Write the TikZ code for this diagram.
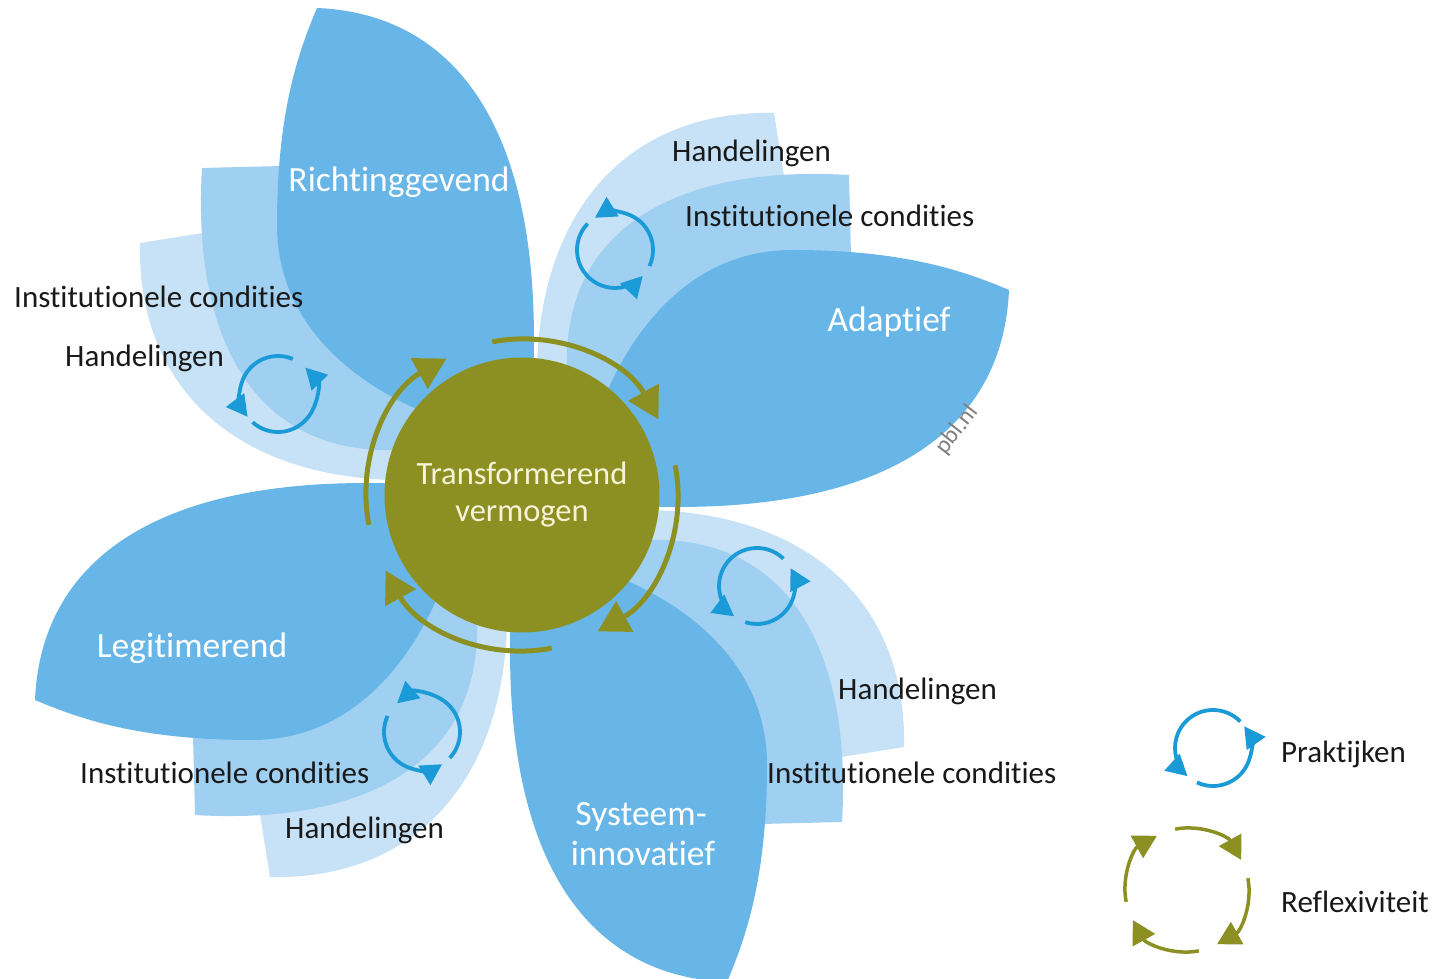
\documentclass[tikz,border=0pt]{standalone}
\usepackage{fontspec}
\setmainfont{Carlito}[Ligatures={NoCommon,NoRare,NoDiscretionary}]
\usepackage{xcolor}
\usepackage{tikz}
\usetikzlibrary{arrows.meta}

\definecolor{petalblue}{HTML}{68B6E8}
\definecolor{condblue}{HTML}{9FCFF1}
\definecolor{handblue}{HTML}{C7E2F6}
\definecolor{olive}{HTML}{8C9023}
\definecolor{cycblue}{HTML}{1A9AD7}
\definecolor{cream}{HTML}{F6F3D8}

% one leaf and its two layers, drawn for the top leaf
\newcommand{\leafpath}{(-30,60) .. controls (-150,90) and (-245,160) .. (-245,270)
  .. controls (-245,380) and (-225,440) .. (-205,487)
  .. controls (-40,480) and (45,320) .. (0,0) -- cycle}
\newcommand{\condpath}{(0,0) -- (-125,45) .. controls (-270,40) and (-330,160) .. (-320,327)
  -- (-200,330) -- cycle}
\newcommand{\handpath}{(0,0) -- (-130,15) .. controls (-290,20) and (-385,110) .. (-382,252)
  -- (-250,273) -- cycle}
\newcommand{\praktijk}[5]{%
  \draw[cyc] (#1) ++(#2:38) arc[start angle=#2, end angle=#3, radius=38];
  \draw[cyc] (#1) ++(#4:38) arc[start angle=#4, end angle=#5, radius=38];}

\tikzset{
  leaf/.style={fill=petalblue},
  cond/.style={fill=condblue},
  hand/.style={fill=handblue},
  hub/.style={circle, fill=olive, minimum size=275pt, inner sep=0pt, align=center,
    text=cream, font=\fontsize{32.5}{37}\selectfont},
  leaftxt/.style={anchor=base, inner sep=0pt, text=white, font=\fontsize{35.5}{40}\selectfont},
  txt/.style={anchor=base west, inner sep=0pt, text=black!90, font=\fontsize{31}{31}\selectfont},
  cyc/.style={draw=cycblue, line width=3.8pt, -{Triangle[length=21pt,width=22pt]}},
  refl/.style={draw=olive, line width=5pt, -{Triangle[length=31pt,width=34pt]}},
  refls/.style={draw=olive, line width=3.5pt, -{Triangle[length=23pt,width=25pt]}}
}

\begin{document}
\begin{tikzpicture}[x=1pt,y=1pt]
    \useasboundingbox (0,0) rectangle (1436,978);
    \coordinate (c) at (522,483);

    % layers behind the leaves
    \foreach \r in {0,-90,-180,-270} {
        \begin{scope}[shift={(c)},rotate=\r]
            \fill[hand] \handpath;
            \fill[cond] \condpath;
        \end{scope}
    }
    % leaves
    \foreach \r in {0,-90,-180,-270} {
        \begin{scope}[shift={(c)},rotate=\r]
            \fill[leaf] \leafpath;
        \end{scope}
    }

    \node[hub] (tv) at (c) {Transformerend\\vermogen};

    % reflexiviteit round the centre
    \foreach \a in {101,11,-79,-169}
        \draw[refl] (c) ++(\a:156) arc[start angle=\a, end angle=\a-72, radius=156];

    % praktijken
    \coordinate (p1) at (278,584);
    \coordinate (p2) at (615,728);
    \coordinate (p3) at (757,392);
    \coordinate (p4) at (422,246);
    \praktijk{p1}{67}{217}{228}{404}
    \praktijk{p2}{136}{317}{335}{482}
    \praktijk{p3}{46}{233}{252}{388}
    \praktijk{p4}{155}{302}{317}{491}

    \node[leaftxt] (ri) at (399,786) {Richtinggevend};
    \node[leaftxt] (ad) at (889,646) {Adaptief};
    \node[leaftxt] (le) at (192,320) {Legitimerend};
    \node[leaftxt] (sy1) at (641,152) {Systeem-};
    \node[leaftxt] (sy2) at (643,112) {innovatief};
    \node[anchor=center, inner sep=0pt, rotate=52, text=black!50,
        font=\fontsize{24}{24}\selectfont] (pbl) at (957,548) {pbl.nl};

    \node[txt] (ic1) at (14,670) {Institutionele condities};
    \node[txt] (ha1) at (65,611) {Handelingen};
    \node[txt] (ha2) at (672,816) {Handelingen};
    \node[txt] (ic2) at (685,751) {Institutionele condities};
    \node[txt] (ha3) at (838,278) {Handelingen};
    \node[txt] (ic3) at (767,194) {Institutionele condities};
    \node[txt] (ic4) at (80,194) {Institutionele condities};
    \node[txt] (ha4) at (285,139) {Handelingen};

    % legend
    \coordinate (lp) at (1213,230);
    \praktijk{lp}{44}{228}{245}{395}
    \coordinate (lr) at (1187,88);
    \foreach \a in {101,11,-79,-169}
        \draw[refls] (lr) ++(\a:62) arc[start angle=\a, end angle=\a-72, radius=62];
    \node[txt] (lpt) at (1281,215) {Praktijken};
    \node[txt] (lrt) at (1281,66) {Reflexiviteit};
\end{tikzpicture}
\end{document}
